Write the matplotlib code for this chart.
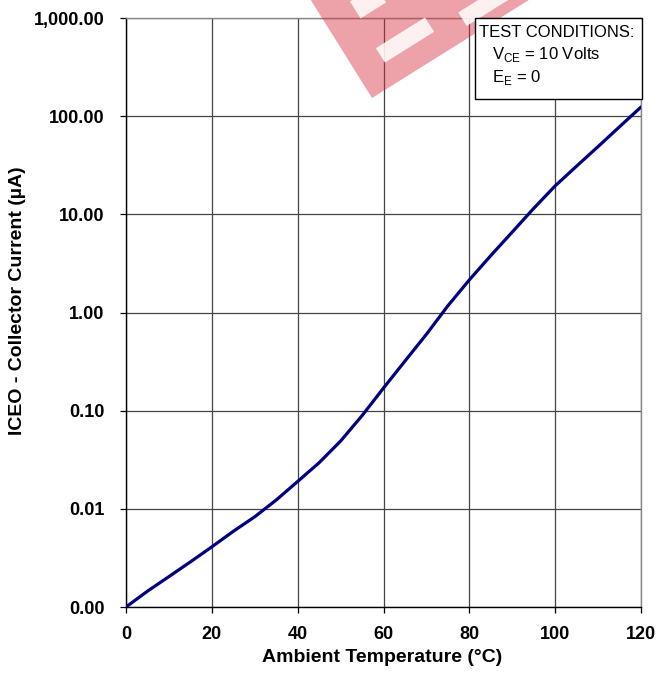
import matplotlib
matplotlib.use("Agg")
import matplotlib.pyplot as plt
from matplotlib.patches import Rectangle
from matplotlib.ticker import FixedLocator, NullLocator

plt.rcParams['font.family'] = ['Liberation Sans', 'DejaVu Sans']

temperature_c = [0, 5, 10, 15, 20, 25, 30, 35, 40, 45, 50, 55, 60, 65, 70,
                 75, 80, 85, 90, 95, 100, 105, 110, 115, 120]
iceo_ua = [0.0010, 0.00145, 0.00204, 0.00288, 0.0041, 0.0059, 0.0083, 0.0123,
           0.019, 0.0295, 0.049, 0.089, 0.17, 0.32, 0.60, 1.17, 2.15, 3.8,
           6.6, 11.5, 19.5, 31, 49, 78, 124]

x_ticks = [0, 20, 40, 60, 80, 100, 120]
y_ticks = [0.001, 0.01, 0.1, 1, 10, 100, 1000]
y_tick_labels = ["0.00", "0.01", "0.10", "1.00", "10.00", "100.00", "1,000.00"]

W, H = 658, 675
fig = plt.figure(figsize=(W/100, H/100), dpi=100)
ax = fig.add_axes([126/W, 1-607/H, (641-126)/W, (607-18)/H])

ax.set_yscale('log')
ax.set_xlim(0, 120)
ax.set_ylim(0.001, 1000)

ax.plot(temperature_c, iceo_ua, color='#000080', lw=2.3, solid_capstyle='round',
        solid_joinstyle='round', zorder=3)

ax.xaxis.set_major_locator(FixedLocator(x_ticks))
ax.yaxis.set_major_locator(FixedLocator(y_ticks))
ax.yaxis.set_minor_locator(NullLocator())
ax.set_yticklabels(y_tick_labels)
ax.set_xticklabels([str(t) for t in x_ticks])
ax.grid(True, which='major', color='#444444', lw=0.9)
ax.tick_params(axis='both', which='major', labelsize=13, length=4.5, width=0.9,
               direction='out', color='black')
ax.tick_params(axis='x', pad=9)
ax.tick_params(axis='y', pad=11)
for lab in ax.get_xticklabels() + ax.get_yticklabels():
    lab.set_fontweight('bold')

for s in ['left', 'bottom']:
    ax.spines[s].set_color('black')
    ax.spines[s].set_linewidth(1.0)
for s in ['top', 'right']:
    ax.spines[s].set_color('#888888')
    ax.spines[s].set_linewidth(1.0)

fig.text(382/W, 1-658/H, 'Ambient Temperature (°C)', fontsize=14, fontweight='bold',
         ha='center', va='center')
fig.text(17.5/W, 1-301/H, 'ICEO - Collector Current (µA)', fontsize=14, fontweight='bold',
         ha='center', va='center', rotation=90)

# Watermark: translucent red rotated block with white cut-outs (in inches, y up)
def px(x, y):
    return (x/100, (H - y)/100)

wm_angle = 32
fig.patches.append(Rectangle(px(372, 98), 4.2, 3.0, angle=wm_angle,
                             transform=fig.dpi_scale_trans, facecolor='#d8303e',
                             alpha=0.45, edgecolor='none', zorder=4))
for (cx, cy, L, T) in [(405, 40, 0.58, 0.17), (368, 2, 0.30, 0.20), (490, 2, 0.65, 0.16)]:
    import math
    a = math.radians(wm_angle)
    x0 = cx/100 - (L/2)*math.cos(a) + (T/2)*math.sin(a)
    y0 = (H - cy)/100 - (L/2)*math.sin(a) - (T/2)*math.cos(a)
    fig.patches.append(Rectangle((x0, y0), L, T, angle=wm_angle,
                                 transform=fig.dpi_scale_trans, facecolor='white',
                                 alpha=0.85, edgecolor='none', zorder=4.5))

# Test conditions box
box_l, box_r, box_t, box_b = 475, 642, 18, 99
fig.patches.append(Rectangle((box_l/W, 1-box_b/H), (box_r-box_l)/W, (box_b-box_t)/H,
                             transform=fig.transFigure, facecolor='white',
                             edgecolor='black', lw=1.0, zorder=5))
fig.text(479/W, 1-37/H, 'TEST CONDITIONS:', fontsize=12, zorder=6, va='baseline')
fig.text(492/W, 1-59/H, r'V$_\mathregular{CE}$ = 10 Volts', fontsize=12, zorder=6, va='baseline')
fig.text(492/W, 1-82/H, r'E$_\mathregular{E}$ = 0', fontsize=12, zorder=6, va='baseline')

fig.savefig('out.png', dpi=100)
